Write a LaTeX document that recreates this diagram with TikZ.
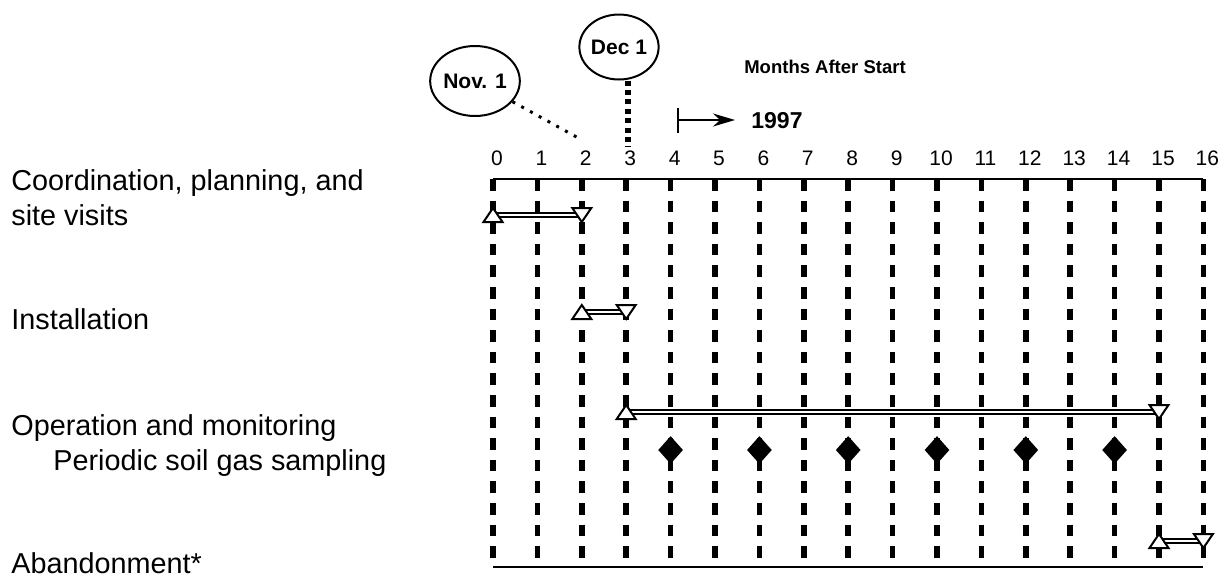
\documentclass[tikz,border=0pt]{standalone}
\usepackage{fontspec}
\setmainfont{Liberation Sans}
\usetikzlibrary{shapes.geometric, arrows.meta}

\tikzset{
  month/.style={font=\fontsize{10.5}{12}\selectfont, anchor=base, inner sep=0pt},
  tasklabel/.style={font=\fontsize{14.4}{17}\selectfont, anchor=base west, inner sep=0pt},
  gridline/.style={line width=2.8pt, dash pattern=on 5.8pt off 5pt},
  taskbar/.style={double, line width=0.8pt, double distance=1.4pt},
  datemark/.style={draw, ellipse, line width=1pt, inner sep=0pt, minimum width=39pt, minimum height=34pt, font=\bfseries\fontsize{10.5}{12}\selectfont},
  sample/.style={diamond, fill=black, inner sep=0pt, minimum width=12.5pt, minimum height=14pt},
  startmark/.pic={\draw[line width=1pt, fill=white] (-9.5,7) -- (9.5,7) -- (0,-7) -- cycle;},
  endmark/.pic={\draw[line width=1pt, fill=white] (-9.5,-7) -- (9.5,-7) -- (0,7) -- cycle;}
}

\begin{document}
\begin{tikzpicture}[x=0.5pt, y=-0.5pt]
  \useasboundingbox (0,0) rectangle (1228,579);
  % month columns
  \foreach \m in {0,...,16} {
    \coordinate (t\m) at (493+44.4*\m, 179);
    \coordinate (b\m) at (493+44.4*\m, 567);
    \node[month] (n\m) at (497+44.4*\m, 165) {\m};
    \draw[gridline] (t\m) -- (b\m);
  }
  \draw[line width=1pt] (t0) -- (t16);
  \draw[line width=1pt] (b0) -- (b16);
  % tasks
  \foreach \a/\b/\y [count=\i] in {0/2/36, 2/3/133, 3/15/233, 15/16/362} {
    \path (t\a) ++(0,\y) coordinate (s\i);
    \path (t\b) ++(0,\y) coordinate (e\i);
    \draw[taskbar] (s\i) -- (e\i);
    \pic at (s\i) {startmark};
    \pic at (e\i) {endmark};
  }
  \foreach \m in {4,6,...,14}
    \path (t\m) ++(0,271) node[sample] (d\m) {};
  % task names
  \node[tasklabel] (coord) at (11,190) {Coordination, planning, and};
  \node[tasklabel] (visits) at (11,225) {site visits};
  \node[tasklabel] (install) at (11,329) {Installation};
  \node[tasklabel] (operate) at (11,435) {Operation and monitoring};
  \node[tasklabel] (sampling) at (53,470) {Periodic soil gas sampling};
  \node[tasklabel] (abandon) at (11,573) {Abandonment*};
  % header
  \node[font=\bfseries\fontsize{9.25}{11}\selectfont, anchor=base] (axis) at (825,73) {Months After Start};
  \node[datemark, minimum width=40pt, minimum height=35pt] (nov) at (475,81) {Nov. 1};
  \node[datemark, minimum width=38pt, minimum height=32.5pt] (dec) at (619,47) {Dec 1};
  \coordinate (novend) at (582,140);
  \coordinate (decend) at (628,147);
  \draw[line width=1.5pt, dash pattern=on 1.5pt off 3.5pt] (nov) -- (novend);
  \draw[line width=2.8pt, dash pattern=on 2.5pt off 2.2pt] (dec.south -| decend) -- (decend);
  \coordinate (yearstart) at (677,120);
  \coordinate (yearend) at (735,120);
  \draw[line width=0.9pt, {Bar[width=12.5pt]}-{Stealth[length=11pt,width=6.5pt]}] (yearstart) -- (yearend);
  \node[font=\bfseries\fontsize{11.5}{13}\selectfont, anchor=base west, inner sep=0pt] (year) at (751,128) {1997};
\end{tikzpicture}
\end{document}
